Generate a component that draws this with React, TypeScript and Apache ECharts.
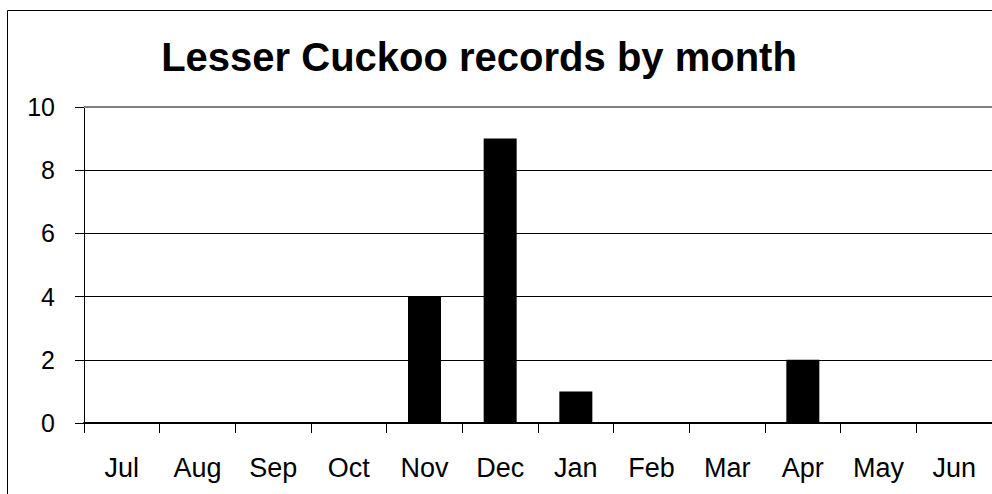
import React, { useEffect, useRef } from "react";
import * as echarts from "echarts";

const titleText = "Lesser Cuckoo records by month";
const months = ["Jul", "Aug", "Sep", "Oct", "Nov", "Dec", "Jan", "Feb", "Mar", "Apr", "May", "Jun"];
const records = [0, 0, 0, 0, 4, 9, 1, 0, 0, 2, 0, 0];
const yMin = 0;
const yMax = 10;
const yStep = 2;

const FONT = "'Liberation Sans', Arial, sans-serif";

export default function App() {
  const ref = useRef<HTMLDivElement>(null);
  useEffect(() => {
    if (!ref.current) return;
    const chart = echarts.init(ref.current, null, { renderer: "svg" });
    chart.setOption({
      animation: false,
      backgroundColor: "#ffffff",
      title: {
        text: titleText,
        left: 474,
        textAlign: "center",
        top: 32,
        textStyle: { fontFamily: FONT, fontSize: 40, fontWeight: "bold", color: "#000" },
      },
      graphic: [
        {
          type: "rect",
          shape: { x: 7.5, y: 10.5, width: 1000, height: 500 },
          style: { fill: "none", stroke: "#000", lineWidth: 1 },
          silent: true,
          z: 100,
        },
      ],
      grid: { left: 84, top: 107, width: 912, bottom: 71, containLabel: false },
      xAxis: {
        type: "category",
        data: months,
        boundaryGap: true,
        axisLine: { show: true, lineStyle: { color: "#000", width: 2 } },
        axisTick: { show: true, length: 10, alignWithLabel: false, lineStyle: { color: "#000", width: 1 } },
        axisLabel: { color: "#000", fontFamily: FONT, fontSize: 27, margin: 31, interval: 0 },
        splitLine: { show: false },
        z: 10,
      },
      yAxis: {
        type: "value",
        min: yMin,
        max: yMax,
        interval: yStep,
        axisLine: { show: true, lineStyle: { color: "#000", width: 1 } },
        axisTick: { show: true, length: 9, lineStyle: { color: "#000", width: 1 } },
        axisLabel: { color: "#000", fontFamily: FONT, fontSize: 25, margin: 29 },
        splitLine: {
          show: true,
          lineStyle: { color: ["#000", "#000", "#000", "#000", "#000", "rgba(0,0,0,0)"], width: 1 },
        },
      },
      series: [
        {
          type: "bar",
          data: records,
          barWidth: 33,
          itemStyle: { color: "#000" },
          markLine: {
            silent: true,
            symbol: "none",
            label: { show: false },
            lineStyle: { color: "#808080", width: 2, type: "solid" },
            data: [{ yAxis: yMax }],
          },
        },
      ],
    });
    return () => chart.dispose();
  }, []);
  return (
    <div
      ref={ref}
      style={{ position: "fixed", left: 0, top: 0, width: 992, height: 494 }}
    />
  );
}
